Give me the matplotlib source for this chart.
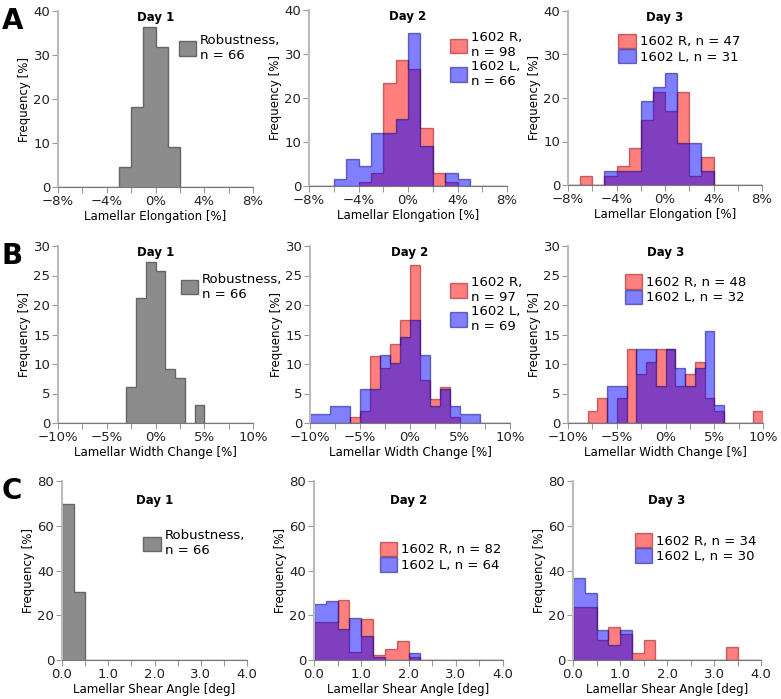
import numpy as np
import matplotlib
matplotlib.use("Agg")
import matplotlib.pyplot as plt
from matplotlib.patches import Patch

# ── data: counts per bin ──────────────────────────────────────────────────────
# elongation, 1 % bins from -8 to 8
elong_edges = np.arange(-8, 9, 1.0)
elong_d1 = [0, 0, 0, 0, 0, 3, 12, 24, 21, 6, 0, 0, 0, 0, 0, 0]
elong_d2_R = [0, 0, 0, 0, 1, 3, 23, 28, 26, 13, 3, 1, 0, 0, 0, 0]
elong_d2_L = [0, 0, 1, 4, 3, 8, 8, 10, 23, 6, 0, 2, 1, 0, 0, 0]
elong_d3_R = [0, 1, 0, 1, 2, 4, 7, 10, 8, 10, 1, 3, 0, 0, 0, 0]
elong_d3_L = [0, 0, 0, 1, 1, 1, 6, 7, 8, 3, 3, 1, 0, 0, 0, 0]

# width change, 1 % bins from -10 to 10
width_edges = np.arange(-10, 11, 1.0)
width_d1 = [0, 0, 0, 0, 0, 0, 0, 4, 14, 18, 17, 6, 5, 0, 2, 0, 0, 0, 0, 0]
width_d2_R = [0, 0, 0, 0, 1, 2, 11, 9, 13, 17, 26, 7, 4, 6, 1, 0, 0, 0, 0, 0]
width_d2_L = [1, 1, 2, 2, 0, 4, 4, 8, 7, 10, 12, 8, 2, 4, 2, 1, 1, 0, 0, 0]
width_d3_R = [0, 0, 1, 2, 0, 2, 6, 4, 5, 6, 6, 3, 4, 5, 2, 1, 0, 0, 0, 1]
width_d3_L = [0, 0, 0, 0, 2, 2, 0, 4, 4, 2, 4, 3, 2, 3, 5, 1, 0, 0, 0, 0]

# shear angle, 0.25 deg bins from 0 to 4
shear_edges = np.arange(0, 4.01, 0.25)
shear_d1 = [46, 20, 0, 0, 0, 0, 0, 0, 0, 0, 0, 0, 0, 0, 0, 0]
shear_d2_R = [14, 14, 22, 3, 15, 2, 4, 7, 1, 0, 0, 0, 0, 0, 0, 0]
shear_d2_L = [16, 17, 9, 12, 7, 1, 0, 0, 2, 0, 0, 0, 0, 0, 0, 0]
shear_d3_R = [8, 8, 3, 5, 4, 1, 3, 0, 0, 0, 0, 0, 0, 2, 0, 0]
shear_d3_L = [11, 9, 4, 2, 4, 0, 0, 0, 0, 0, 0, 0, 0, 0, 0, 0]

GRAY_FC, GRAY_EC = "#8c8c8c", "#666666"
RED_FC, RED_EC = (1.0, 0.0, 0.0), (0.55, 0.0, 0.0)
BLUE_FC, BLUE_EC = (0.0, 0.0, 1.0), (0.0, 0.0, 0.45)
AX_COL = "#999999"

plt.rcParams["font.family"] = "DejaVu Sans"
plt.rcParams["font.size"] = 8.5

fig = plt.figure(figsize=(7.81, 6.99), dpi=100)
W, H = 781, 699


def add_ax(x0, y0, x1, y1):
    return fig.add_axes([x0 / W, 1 - y1 / H, (x1 - x0) / W, (y1 - y0) / H])


def pct(counts):
    c = np.asarray(counts, float)
    return 100 * c / c.sum()


def style(ax, xlim, ylim, yticks, xmajor, xminor, xfmt, xlabel, title):
    ax.set_xlim(*xlim)
    ax.set_ylim(*ylim)
    ax.set_yticks(yticks)
    ax.set_xticks(xminor, minor=True)
    ax.set_xticks(xmajor)
    ax.set_xticklabels([xfmt(v) for v in xmajor])
    for s in ["top", "right"]:
        ax.spines[s].set_visible(False)
    ax.spines["left"].set_color("#bbbbbb")
    ax.spines["left"].set_linewidth(1.5)
    ax.spines["bottom"].set_color("#777777")
    ax.tick_params(which="both", color=AX_COL, length=4, width=0.8,
                   labelcolor="#222222", labelsize=9.5, pad=1.5)
    ax.tick_params(which="minor", length=4)
    ax.set_ylabel("Frequency [%]", fontsize=8.5, labelpad=2)
    ax.set_xlabel(xlabel, fontsize=8.5, labelpad=2)
    ax.text(0.5, 1.0, title, transform=ax.transAxes, ha="center", va="top",
            fontsize=8.5, fontweight="bold")


def single(ax, edges, counts, label, leg_xy):
    ax.stairs(pct(counts), edges, fill=True, facecolor=GRAY_FC,
              edgecolor=GRAY_EC, linewidth=1.0)
    h = [Patch(facecolor=GRAY_FC, edgecolor=GRAY_EC)]
    ax.legend(h, [label], loc="upper left", bbox_to_anchor=leg_xy,
              frameon=False, handlelength=1.3, handleheight=1.3,
              handletextpad=0.3, borderaxespad=0, borderpad=0,
              fontsize=9.5)


def pair(ax, edges, cr, cl, labels, leg_xy):
    ax.stairs(pct(cr), edges, fill=True, facecolor=RED_FC,
              edgecolor=RED_EC, linewidth=1.0, alpha=0.5)
    ax.stairs(pct(cl), edges, fill=True, facecolor=BLUE_FC,
              edgecolor=BLUE_EC, linewidth=1.0, alpha=0.5)
    h = [Patch(facecolor=RED_FC, edgecolor=RED_EC, alpha=0.5),
         Patch(facecolor=BLUE_FC, edgecolor=BLUE_EC, alpha=0.5)]
    ax.legend(h, labels, loc="upper left", bbox_to_anchor=leg_xy,
              frameon=False, handlelength=1.3, handleheight=1.3,
              handletextpad=0.3, labelspacing=0.05, borderaxespad=0,
              borderpad=0, fontsize=9.5)


pctfmt = lambda v: f"{v:.0f}%".replace("-", "\u2212")
degfmt = lambda v: f"{v:.1f}"

# ── row A: elongation ─────────────────────────────────────────────────────────
rowA = [add_ax(58, 11, 253, 187), add_ax(309, 10, 507, 186), add_ax(568, 11, 762, 185)]
single(rowA[0], elong_edges, elong_d1, "Robustness,\nn = 66", (0.62, 0.87))
pair(rowA[1], elong_edges, elong_d2_R, elong_d2_L,
     ["1602 R,\nn = 98", "1602 L,\nn = 66"], (0.71, 0.88))
pair(rowA[2], elong_edges, elong_d3_R, elong_d3_L,
     ["1602 R, n = 47", "1602 L, n = 31"], (0.26, 0.87))
for ax, d in zip(rowA, ["Day 1", "Day 2", "Day 3"]):
    style(ax, (-8, 8), (0, 40), [0, 10, 20, 30, 40], [-8, -4, 0, 4, 8],
          np.arange(-8, 9, 2), pctfmt, "Lamellar Elongation [%]", d)

# ── row B: width change ───────────────────────────────────────────────────────
rowB = [add_ax(58, 246, 253, 423), add_ax(310, 246, 510, 423), add_ax(568, 246, 763, 423)]
single(rowB[0], width_edges, width_d1, "Robustness,\nn = 66", (0.63, 0.85))
pair(rowB[1], width_edges, width_d2_R, width_d2_L,
     ["1602 R,\nn = 97", "1602 L,\nn = 69"], (0.70, 0.83))
pair(rowB[2], width_edges, width_d3_R, width_d3_L,
     ["1602 R, n = 48", "1602 L, n = 32"], (0.29, 0.84))
for ax, d in zip(rowB, ["Day 1", "Day 2", "Day 3"]):
    style(ax, (-10, 10), (0, 30), [0, 5, 10, 15, 20, 25, 30], [-10, -5, 0, 5, 10],
          np.arange(-10, 10.1, 2.5), pctfmt, "Lamellar Width Change [%]", d)

# ── row C: shear angle ────────────────────────────────────────────────────────
rowC = [add_ax(62, 481, 247, 660), add_ax(314, 481, 503, 660), add_ax(573, 481, 761, 660)]
single(rowC[0], shear_edges, shear_d1, "Robustness,\nn = 66", (0.44, 0.73))
pair(rowC[1], shear_edges, shear_d2_R, shear_d2_L,
     ["1602 R, n = 82", "1602 L, n = 64"], (0.35, 0.66))
pair(rowC[2], shear_edges, shear_d3_R, shear_d3_L,
     ["1602 R, n = 34", "1602 L, n = 30"], (0.33, 0.71))
for ax, d in zip(rowC, ["Day 1", "Day 2", "Day 3"]):
    style(ax, (0, 4), (0, 80), [0, 20, 40, 60, 80], [0, 1, 2, 3, 4],
          np.arange(0, 4.01, 0.5), degfmt, "Lamellar Shear Angle [deg]", d)
    ax.texts[-1].set_position((0.5, 0.93))

# panel letters
for lab, y in [("A", 11), ("B", 246), ("C", 481)]:
    fig.text(2 / W, 1 - (y - 4) / H, lab, ha="left", va="top",
             fontsize=20, fontweight="bold")

fig.savefig("out.png", dpi=100)
